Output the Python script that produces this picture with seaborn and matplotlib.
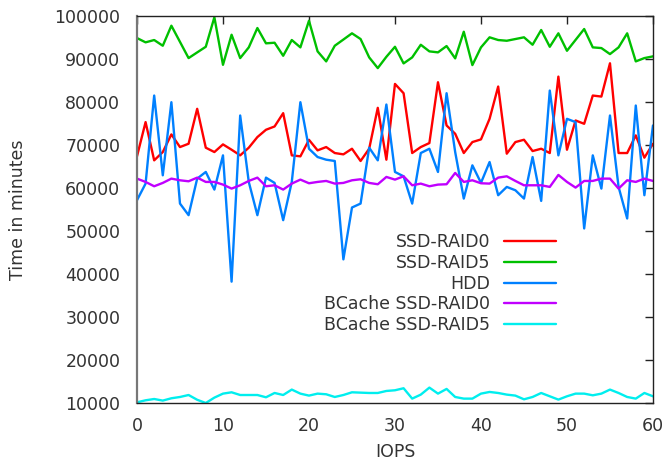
import numpy as np
import pandas as pd
import seaborn as sns
import matplotlib
matplotlib.use("Agg")
import matplotlib.pyplot as plt

iops = list(range(61))

ssd_raid0 = [67360, 75320, 66430, 68360, 72460, 69520, 70290, 78410, 69370, 68360,
             70140, 68900, 67590, 69370, 71840, 73540, 74310, 77400, 67590, 67360,
             71200, 68750, 69520, 68130, 67820, 69130, 66280, 69130, 78640, 66580,
             84200, 82040, 68130, 69520, 70450, 84590, 74540, 72610, 68130, 70680,
             71300, 76090, 83590, 67980, 70680, 71220, 68590, 69130, 68130, 85900,
             68900, 75700, 74930, 81500, 81260, 89000, 68130, 68130, 72230, 67050,
             70290]

ssd_raid5 = [94870, 93870, 94410, 93080, 97740, 93980, 90210, 91530, 92840, 99700,
             88650, 95640, 90210, 92700, 97200, 93640, 93780, 90750, 94410, 92700,
             98900, 91770, 89440, 93080, 94520, 95970, 94640, 90370, 87880, 90510,
             92840, 88970, 90370, 93310, 91770, 91540, 93010, 90140, 96340, 88580,
             92700, 95040, 94410, 94240, 94640, 95040, 93310, 96740, 92840, 95970,
             91910, 94440, 96970, 92700, 92540, 91140, 92700, 95970, 89440, 90210,
             90610]

hdd = [57160, 61020, 81500, 62950, 79950, 56380, 53680, 62180, 63730, 59630,
       67590, 38220, 76860, 61410, 53680, 62410, 61180, 52520, 61410, 79950,
       69130, 67200, 66580, 66280, 43400, 55460, 56380, 69370, 66430, 79410,
       63730, 62720, 56380, 68130, 69130, 63730, 82040, 68360, 57540, 65270,
       61200, 66040, 58320, 60250, 59470, 57540, 67200, 57000, 82660, 67590,
       76090, 75320, 50590, 67590, 59860, 76860, 60250, 52910, 79180, 58320,
       74540]

bcache_raid0 = [62180, 61410, 60400, 61180, 62180, 61790, 61560, 62410, 61410, 61410,
                60790, 59860, 60630, 61640, 62410, 60400, 60630, 59630, 61020, 61950,
                61100, 61410, 61640, 61020, 61180, 61790, 62030, 61180, 60870, 62570,
                61950, 62720, 60630, 61020, 60400, 60790, 60870, 63500, 61410, 61790,
                61100, 61020, 62410, 62720, 61640, 60630, 60630, 60630, 60250, 63040,
                61410, 60090, 61640, 61640, 62180, 62180, 59860, 61790, 61410, 62180,
                61640]

bcache_raid5 = [10160, 10630, 10930, 10560, 11100, 11400, 11860, 10750, 10000, 11250,
                12180, 12490, 11860, 11860, 11860, 11330, 12330, 11860, 13120, 12180,
                11720, 12180, 12030, 11400, 11860, 12490, 12410, 12330, 12330, 12800,
                12960, 13430, 11020, 11950, 13580, 12180, 13270, 11400, 11020, 11020,
                12180, 12570, 12330, 11950, 11720, 10860, 11400, 12330, 11560, 10790,
                11560, 12180, 12180, 11790, 12180, 13120, 12330, 11400, 11020, 12330,
                11560]

series_names = ["SSD-RAID0", "SSD-RAID5", "HDD", "BCache SSD-RAID0", "BCache SSD-RAID5"]
series_values = [ssd_raid0, ssd_raid5, hdd, bcache_raid0, bcache_raid5]
colors = ["#ff0000", "#00c000", "#0080ff", "#c000ff", "#00eeee"]

df = pd.concat(
    [pd.DataFrame({"IOPS": iops, "Time": vals, "Series": name})
     for name, vals in zip(series_names, series_values)],
    ignore_index=True,
)

sns.set_theme(style="white")
plt.rcParams["font.family"] = ["DejaVu Sans"]

fig = plt.figure(figsize=(6.64, 4.62), dpi=100)
ax = fig.add_axes([0.2063, 0.1277, 0.7771, 0.8377])

sns.lineplot(data=df, x="IOPS", y="Time", hue="Series", hue_order=series_names,
             palette=colors, linewidth=1.7, ax=ax, legend=True)

ax.set_xlim(0, 60)
ax.set_ylim(10000, 100000)
ax.set_xticks(range(0, 61, 10))
ax.set_yticks(range(10000, 100001, 10000))
ax.tick_params(axis="both", which="both", direction="in", length=6, width=1,
               top=True, right=True, labelsize=12.5, colors="#222222")
ax.tick_params(axis="both", labelcolor="#333333")
ax.tick_params(axis="x", pad=10)
ax.tick_params(axis="y", pad=12)
for side in ["top", "right", "bottom"]:
    ax.spines[side].set_color("#222222")
    ax.spines[side].set_linewidth(1.0)
ax.spines["left"].set_color("#777777")
ax.spines["left"].set_linewidth(1.6)

ax.set_xlabel("IOPS", fontsize=12.5, color="#333333", labelpad=6)
ax.set_ylabel("Time in minutes", fontsize=12.5, color="#333333", labelpad=20)

handles, labels = ax.get_legend_handles_labels()
ax.legend(handles, labels, loc="upper right", bbox_to_anchor=(0.826, 0.456),
          frameon=False, markerfirst=False, fontsize=12.5, handlelength=3.0,
          handletextpad=0.8, labelspacing=0.15, borderaxespad=0,
          labelcolor="#333333")
for line in ax.get_legend().get_lines():
    line.set_linewidth(1.7)

fig.savefig("out.png", dpi=100)
